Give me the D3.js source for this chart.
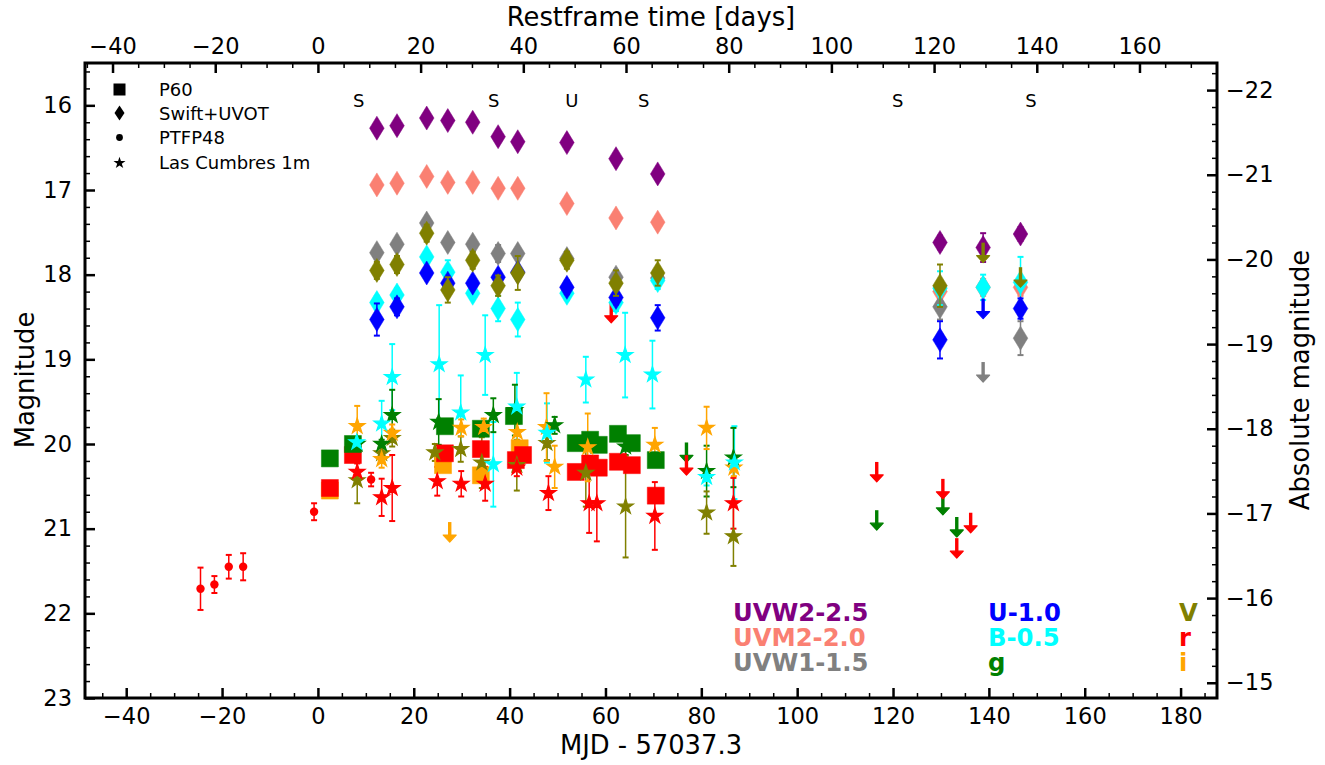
<!DOCTYPE html>
<html><head><meta charset="utf-8">
<script src="https://cdn.jsdelivr.net/npm/d3@7"></script>
<style>body{margin:0;background:#fff} text{font-family:"DejaVu Sans",sans-serif}</style>
</head><body><svg id="c" width="1325" height="765"></svg>
<script>
// ---------------- DATA ----------------
const xTicks = [-40,-20,0,20,40,60,80,100,120,140,160,180];
const xTopTicks = [-40,-20,0,20,40,60,80,100,120,140,160];
const yTicks = [16,17,18,19,20,21,22,23];
const yRightTicks = [-22,-21,-20,-19,-18,-17,-16,-15];
const redshiftFactor = 1.0714;
const distMod = 37.82;

// Swift UVOT epochs (MJD - 57037.3) and plotted magnitudes (offsets applied)
const swiftMJD = [12.3,16.5,22.7,27.1,32.3,37.6,41.7,51.95,62.2,70.9,129.8,138.8,146.6];
const uvw2Mag = [16.27,16.24,16.15,16.18,16.20,16.37,16.43,16.44,16.63,16.81,17.62,17.68,17.52];
const uvw2Err = [0.04,0.04,0.04,0.04,0.04,0.05,0.05,0.05,0.05,0.06,0.08,0.17,0.08];
const uvm2Mag = [16.94,16.92,16.84,16.91,16.91,16.98,16.98,17.16,17.33,17.38,18.20,18.15,18.15];
const uvm2Err = [0.04,0.04,0.04,0.04,0.04,0.05,0.05,0.05,0.06,0.06,0.08,0.1,0.1];
const uvw1Mag = [17.74,17.64,17.39,17.62,17.64,17.75,17.75,17.81,18.03,18.04,18.38,null,18.75];
const uvw1Err = [0.05,0.05,0.05,0.05,0.05,0.1,0.05,0.08,0.08,0.08,0.15,null,0.2];
const uMag = [18.53,18.38,17.98,18.10,18.10,18.03,17.97,18.15,18.27,18.51,18.77,null,18.40];
const uErr = [0.19,0.1,0.06,0.06,0.06,0.06,0.06,0.08,0.08,0.15,0.22,null,0.12];
const bMag = [18.33,18.24,17.79,17.97,18.22,18.40,18.53,18.22,18.33,18.07,18.16,18.15,18.09];
const bErr = [0.08,0.08,0.06,0.14,0.06,0.15,0.2,0.08,0.1,0.1,0.2,0.15,0.3];
const vMag = [17.95,17.88,17.51,18.18,17.83,18.13,17.98,17.83,18.10,17.98,18.13,null,null];
const vErr = [0.1,0.1,0.1,0.15,0.1,0.12,0.2,0.1,0.15,0.15,0.25,null,null];

// P60 squares [mjd, mag]
const p60g = [[2.5,20.17],[7.3,20.00],[26.5,19.79],[34.0,19.82],[40.9,19.67],[53.8,19.99],[56.8,19.95],[58.6,20.01],[62.6,19.88],[65.5,19.99],[70.5,20.19]];
const p60r = [[2.5,20.52],[7.3,20.13],[26.5,20.11],[34.0,20.06],[41.3,20.19],[42.8,20.13],[53.8,20.33],[56.8,20.23],[58.6,20.28],[62.6,20.21],[65.5,20.25],[70.5,20.61]];
const p60i = [[2.5,20.55],[26.1,20.25],[34.0,20.37],[42.1,20.05]];

// PTF P48 circles (r) [mjd, mag, err]
const p48r = [[-24.5,21.71,0.25],[-21.6,21.66,0.1],[-18.6,21.45,0.14],[-15.6,21.45,0.16],[-0.8,20.80,0.1],[11.1,20.42,0.08]];

// Las Cumbres 1m stars [mjd, mag, err]
const lcoB = [[8.1,19.98,0.05],[13.3,19.76,0.27],[15.5,19.21,0.39],[25.3,19.06,0.7],[29.8,19.63,0.44],[34.9,18.95,0.47],[36.6,20.24,0.5],[41.5,19.56,0.4],[47.8,19.87,0.35],[55.9,19.24,0.27],[64.1,18.95,0.5],[69.8,19.18,0.4],[81.1,20.39,0.1],[86.9,20.22,0.43]];
const lcoG = [[8.2,20.00,0.05],[13.3,20.00,0.05],[15.5,19.66,0.3],[25.2,19.74,0.27],[36.6,19.66,0.2],[41.1,19.60,0.3],[49.4,19.78,0.1],[64.2,20.03,0.1],[81.1,20.32,0.3],[86.7,20.16,0.35]];
const lcoV = [[8.2,20.43,0.27],[13.3,20.11,0.1],[15.5,19.93,0.1],[24.4,20.10,0.1],[29.8,20.06,0.15],[34.2,20.22,0.3],[41.5,20.25,0.3],[47.8,19.99,0.2],[55.9,20.34,0.4],[64.2,20.74,0.6],[81.1,20.81,0.25],[86.7,21.09,0.35]];
const lcoR = [[8.2,20.33,0.1],[13.3,20.63,0.22],[15.5,20.52,0.39],[24.9,20.44,0.17],[29.9,20.47,0.15],[34.9,20.47,0.2],[41.5,20.28,0.1],[48.1,20.58,0.2],[56.6,20.70,0.35],[58.2,20.70,0.45],[70.3,20.85,0.4],[86.7,20.70,0.3]];
const lcoI = [[8.2,19.79,0.24],[13.3,20.18,0.1],[15.5,19.87,0.1],[29.9,19.81,0.1],[34.6,19.80,0.1],[41.6,19.86,0.1],[47.7,19.80,0.4],[49.4,20.27,0.25],[56.3,20.04,0.4],[70.3,20.01,0.2],[81.1,19.81,0.25],[86.8,20.28,0.1]];

// Upper limits (arrows) [mjd, mag]
const limG = [[76.9,20.10],[116.6,20.90],[130.4,20.72],[133.3,20.98]];
const limR = [[61.2,18.45],[76.9,20.25],[116.6,20.33],[130.4,20.53],[133.3,21.23],[136.2,20.93]];
const limI = [[27.5,21.04]];
const limUVW1 = [[138.8,19.15]];
const limU = [[138.8,18.40]];
const limV = [[138.8,17.74],[146.6,18.03]];

// Spectra epochs
const specMJD = [8.5,36.7,53.0,68.0,121.0,148.8];
const specLabel = ["S","S","U","S","S","S"];

const legendLabels = ["P60","Swift+UVOT","PTFP48","Las Cumbres 1m"];
const bandLabels = ["UVW2-2.5","UVM2-2.0","UVW1-1.5","U-1.0","B-0.5","g","V","r","i"];

// ---------------- DRAW ----------------
const C = {uvw2:"#800080",uvm2:"#fa8072",uvw1:"#808080",u:"#0000ff",b:"#00ffff",v:"#808000",g:"#008000",r:"#ff0000",i:"#ffa500"};
const L=85,R=1217,T=63,B=698;
const svg = d3.select("#c");
const x = d3.scaleLinear().domain([-48.6,187.6]).range([L,R]);
const xTop = d3.scaleLinear().domain([-48.6/redshiftFactor,187.6/redshiftFactor]).range([L,R]);
const y = d3.scaleLinear().domain([15.5,23]).range([T,B]);
const yR = d3.scaleLinear().domain([15.5-distMod,23-distMod]).range([T,B]);

const plot = svg.append("g");
plot.append("clipPath").attr("id","clip").append("rect").attr("x",L).attr("y",T).attr("width",R-L).attr("height",B-T);
const g = plot.append("g").attr("clip-path","url(#clip)");

function errBars(data, color){
  const eg = g.append("g").attr("stroke",color).attr("stroke-width",1.5);
  data.filter(d=>d[2]!=null && d[1]!=null).forEach(d=>{
    const cx=x(d[0]), y1=y(d[1]-d[2]), y2=y(d[1]+d[2]);
    eg.append("line").attr("x1",cx).attr("x2",cx).attr("y1",y1).attr("y2",y2);
    eg.append("line").attr("x1",cx-3).attr("x2",cx+3).attr("y1",y1).attr("y2",y1).attr("stroke-width",2);
    eg.append("line").attr("x1",cx-3).attr("x2",cx+3).attr("y1",y2).attr("y2",y2).attr("stroke-width",2);
  });
}
const diamondPath = "M0,-12L7.3,0L0,12L-7.3,0Z";
const starSym = d3.symbol().type(d3.symbolStar).size(75)();
const squareSym = "M-8.5,-8.5H8.5V8.5H-8.5Z";
function marks(data, color, kind){
  const mg = g.append("g");
  data.filter(d=>d[1]!=null).forEach(d=>{
    const t = `translate(${x(d[0])},${y(d[1])})`;
    if(kind==="circle") mg.append("circle").attr("cx",x(d[0])).attr("cy",y(d[1])).attr("r",4.2).attr("fill",color);
    else {
      const p = kind==="diamond"?diamondPath:kind==="star"?starSym:squareSym;
      mg.append("path").attr("d",p).attr("transform",t).attr("fill",color).attr("stroke",color).attr("stroke-width",kind==="star"?1.2:0.5).attr("stroke-linejoin","miter");
    }
  });
}
function arrows(data, color){
  const ag = g.append("g").attr("fill",color).attr("stroke",color);
  data.forEach(d=>{
    const cx=x(d[0]), cy=y(d[1]);
    ag.append("line").attr("x1",cx).attr("x2",cx).attr("y1",cy-10).attr("y2",cy+4).attr("stroke-width",3.4);
    ag.append("path").attr("d",`M${cx-6.5},${cy+3}L${cx+6.5},${cy+3}L${cx},${cy+10}Z`).attr("stroke-width",1.2).attr("stroke-linejoin","round");
  });
}
const zipS = (m,e)=>swiftMJD.map((t,k)=>[t,m[k],e[k]]);

// ground-based: error bars, then marks
[[lcoB,C.b],[lcoG,C.g],[lcoV,C.v],[lcoR,C.r],[lcoI,C.i],[p48r,C.r]].forEach(([d,c])=>errBars(d,c));
marks(p48r,C.r,"circle");
marks(p60i,C.i,"square");
marks(p60r,C.r,"square");
marks(p60g,C.g,"square");
marks(lcoV,C.v,"star");
marks(lcoI,C.i,"star");
marks(lcoR,C.r,"star");
marks(lcoG,C.g,"star");
marks(lcoB,C.b,"star");
arrows(limI,C.i); arrows(limG,C.g); arrows(limR,C.r);

// swift
const swiftSets = [[uvw2Mag,uvw2Err,C.uvw2],[uvm2Mag,uvm2Err,C.uvm2],[uvw1Mag,uvw1Err,C.uvw1],[bMag,bErr,C.b],[uMag,uErr,C.u],[vMag,vErr,C.v]];
swiftSets.forEach(([m,e,c])=>{ const d=zipS(m,e); errBars(d,c); marks(d,c,"diamond"); });
arrows(limUVW1,C.uvw1); arrows(limU,C.u); arrows(limV,C.v);

// spectra labels
g.append("g").selectAll("text").data(specMJD).join("text")
  .attr("x",d=>x(d)).attr("y",107).attr("text-anchor","middle").attr("font-size",18).text((d,k)=>specLabel[k]);

// legend
const lg = svg.append("g");
const ly = [89.5,113,137.5,162];
lg.append("rect").attr("x",113.5).attr("y",ly[0]-6).attr("width",12).attr("height",12).attr("fill","#000");
lg.append("path").attr("d","M0,-7.5L5,0L0,7.5L-5,0Z").attr("transform",`translate(119.5,${ly[1]})`).attr("fill","#000");
lg.append("circle").attr("cx",119.5).attr("cy",ly[2]).attr("r",3.4).attr("fill","#000");
lg.append("path").attr("d",d3.symbol().type(d3.symbolStar).size(45)()).attr("transform",`translate(119.5,${ly[3]+1})`).attr("fill","#000");
lg.selectAll("text.l").data(legendLabels).join("text").attr("class","l")
  .attr("x",159).attr("y",(d,k)=>ly[k]+6.5).attr("font-size",18).text(d=>d);

// band labels
const bandPos = [[733,621,C.uvw2],[733,646,C.uvm2],[733,671,C.uvw1],[988,621,C.u],[988,646,C.b],[988,671,C.g],[1179,621,C.v],[1179,646,C.r],[1179,671,C.i]];
svg.append("g").selectAll("text").data(bandLabels).join("text")
  .attr("x",(d,k)=>bandPos[k][0]).attr("y",(d,k)=>bandPos[k][1]).attr("fill",(d,k)=>bandPos[k][2])
  .attr("font-size",24.3).attr("font-weight","bold").text(d=>d);

// axes
const fmt = d3.format("d");
function styleAxis(sel){
  sel.select(".domain").remove();
  sel.selectAll("text").attr("font-size",22.5).attr("fill","#000").attr("font-family","DejaVu Sans");
}
const minorX = d3.range(-45,188,5).filter(v=>v%20!==0);
const minorXT = d3.range(-45,176,5).filter(v=>v%20!==0);
const minorY = d3.range(15.6,23.001,0.2).map(v=>+v.toFixed(1)).filter(v=>Math.abs(v-Math.round(v))>1e-6);
const minorYR = d3.range(-22.2,-14.8,0.2).map(v=>+v.toFixed(1)).filter(v=>Math.abs(v-Math.round(v))>1e-6);

function addAxis(axisFn, scale, majors, minors, tr, pad){
  const a1 = svg.append("g").attr("transform",tr).call(axisFn(scale).tickValues(majors).tickFormat(fmt).tickSize(-10).tickPadding(pad));
  a1.selectAll(".tick line").attr("stroke-width",2.5);
  styleAxis(a1);
  const a2 = svg.append("g").attr("transform",tr).call(axisFn(scale).tickValues(minors).tickFormat("").tickSize(-5));
  a2.selectAll(".tick line").attr("stroke-width",1.5);
  a2.select(".domain").remove();
}
addAxis(d3.axisBottom, x, xTicks, minorX, `translate(0,${B})`, 10);
addAxis(d3.axisTop, xTop, xTopTicks, minorXT, `translate(0,${T})`, 9);
addAxis(d3.axisLeft, y, yTicks, minorY, `translate(${L},0)`, 13);
addAxis(d3.axisRight, yR, yRightTicks, minorYR, `translate(${R},0)`, 9);

// frame
svg.append("rect").attr("x",L).attr("y",T).attr("width",R-L).attr("height",B-T).attr("fill","none").attr("stroke","#000").attr("stroke-width",3);

// titles
svg.append("text").attr("x",(L+R)/2).attr("y",754).attr("text-anchor","middle").attr("font-size",25.8).text("MJD - 57037.3");
svg.append("text").attr("x",(L+R)/2).attr("y",26).attr("text-anchor","middle").attr("font-size",25.8).text("Restframe time [days]");
svg.append("text").attr("transform","translate(34,380) rotate(-90)").attr("text-anchor","middle").attr("font-size",25.8).text("Magnitude");
svg.append("text").attr("transform","translate(1309,380) rotate(-90)").attr("text-anchor","middle").attr("font-size",25.8).text("Absolute magnitude");
</script></body></html>
